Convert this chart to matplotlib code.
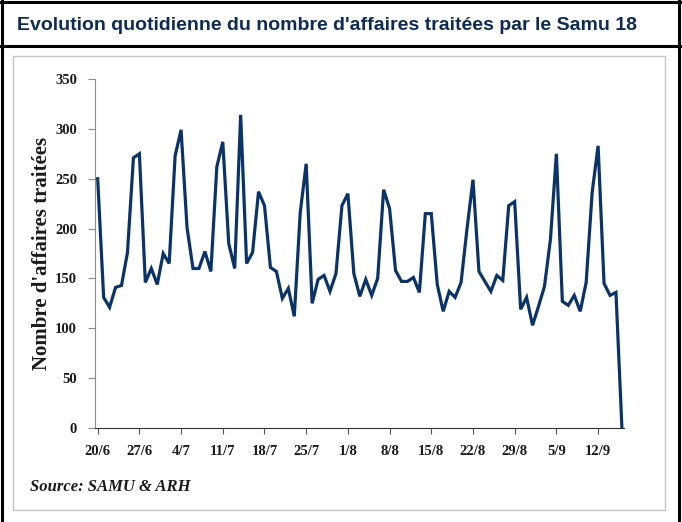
import numpy as np
import matplotlib
matplotlib.use('Agg')
import matplotlib.pyplot as plt
from matplotlib.lines import Line2D
from matplotlib.patches import Rectangle

# Daily number of cases handled, 20/6 to 16/9
values = [250, 131, 121, 141, 143, 176, 271, 275, 146, 160,
          144, 175, 165, 273, 299, 201, 160, 160, 177, 157,
          262, 287, 185, 160, 314, 165, 176, 237, 223, 161,
          157, 130, 140, 112, 216, 265, 125, 149, 153, 137,
          155, 223, 235, 155, 132, 149, 133, 150, 239, 220,
          158, 147, 147, 151, 136, 215, 215, 144, 117, 137,
          131, 146, 200, 249, 157, 147, 137, 153, 148, 223,
          227, 119, 131, 103, 122, 142, 189, 275, 127, 123,
          133, 117, 146, 236, 283, 145, 133, 136, 0]
tick_labels = ['20/6', '27/6', '4/7', '11/7', '18/7', '25/7', '1/8',
               '8/8', '15/8', '22/8', '29/8', '5/9', '12/9']

W, H = 682, 522
navy = '#0a3468'

def fx(x):
    return x / W

def fy(y):
    return 1 - y / H

fig = plt.figure(figsize=(W / 100, H / 100), dpi=100)

# black frame around the panel and under the title
frame = [([2, 2], [0, H]), ([0, W], [2, 2]), ([679, 679], [0, H]), ([0, W], [46, 46])]
for xs, ys in frame:
    fig.add_artist(Line2D([fx(v) for v in xs], [fy(v) for v in ys],
                          color='black', lw=2.2, transform=fig.transFigure))
fig.add_artist(Rectangle((fx(13), fy(510)), fx(665) - fx(13), fy(56) - fy(510),
                         transform=fig.transFigure, fill=False,
                         edgecolor='#c4c4c4', lw=1))

fig.text(fx(17), fy(25), "Evolution quotidienne du nombre d'affaires traitées par le Samu 18",
         fontsize=14, fontweight='bold', family='Liberation Sans',
         color='#0d2b55', va='center', ha='left')

ax = fig.add_axes([fx(95), fy(428), fx(624) - fx(95), fy(79) - fy(428)])
days = np.arange(len(values))
ax.plot(days, values, color=navy, lw=2.3, solid_joinstyle='miter')

ax.set_xlim(-0.45, len(values) - 0.65)
ax.set_ylim(0, 350)
ax.set_yticks(np.arange(0, 351, 50))
ax.set_xticks(np.arange(0, 7 * len(tick_labels), 7))
ax.set_xticklabels(tick_labels)

for s in ['top', 'right']:
    ax.spines[s].set_visible(False)
ax.spines['left'].set_color('#8c8c8c')
ax.spines['bottom'].set_color('#333333')
ax.tick_params(axis='y', direction='out', length=5, color='#8c8c8c', pad=8)
ax.tick_params(axis='x', direction='out', length=4, color='#555555', pad=8)
for lab in ax.get_xticklabels() + ax.get_yticklabels():
    lab.set_family('Liberation Serif')
    lab.set_fontweight('bold')
    lab.set_fontsize(10.5)
    lab.set_color('#1a1a1a')

ax.set_ylabel("Nombre d'affaires traitées", family='Liberation Serif',
              fontweight='bold', fontsize=15, color='#1a1a1a', labelpad=2)

fig.text(fx(30), fy(487), 'Source: SAMU & ARH', family='Liberation Serif',
         style='italic', fontweight='bold', fontsize=12, color='#1a1a1a',
         va='center', ha='left')

fig.savefig('out.png', dpi=100)
